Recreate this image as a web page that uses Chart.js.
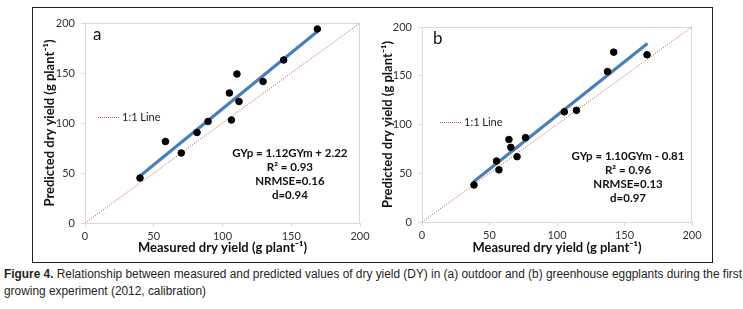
<!DOCTYPE html>
<html>
<head>
<meta charset="utf-8">
<script src="https://cdn.jsdelivr.net/npm/chart.js@4.4.1/dist/chart.umd.min.js"></script>
<style>
  body { margin: 0; background: #fff; width: 743px; height: 309px; position: relative; overflow: hidden; }
  #frame { position: absolute; left: 32px; top: 7px; width: 679px; height: 254px; border: 1px solid #231f20; }
  #chartA { position: absolute; left: 0; top: 0; }
  #chartB { position: absolute; left: 345px; top: 0; }
  #caption { position: absolute; left: 4px; top: 266px; font-family: 'Liberation Sans', sans-serif; font-size: 12.5px; line-height: 17px; color: #231f20; white-space: nowrap; transform-origin: 0 0; }
  #caption span { display: inline-block; }
</style>
</head>
<body>
<div id="frame">
  <canvas id="chartA" width="345" height="254"></canvas>
  <canvas id="chartB" width="333" height="254"></canvas>
</div>
<div id="caption"><span id="capLine"><b>Figure 4.</b> Relationship between measured and predicted values of dry yield (DY) in (a) outdoor and (b) greenhouse eggplants during the first</span><br><span>growing experiment (2012, calibration)</span></div>
<script>
// panel a - outdoor
const measuredA = [40, 58.5, 70, 81.5, 89.5, 105, 106.5, 110.5, 112, 129.5, 144.5, 169];
const predictedA = [45, 81.5, 70, 90.5, 101.5, 130, 103, 149, 121.5, 141.5, 163, 194];
const trendXA = [40, 169];
const trendYA = [47, 191.5];
const statsA = ['GYp = 1.12GYm + 2.22', 'R\u00b2 = 0.93', 'NRMSE=0.16', 'd=0.94'];

// panel b - greenhouse
const measuredB = [38.5, 55.2, 57, 64.4, 65.8, 70.4, 76.7, 105.4, 114.4, 137.4, 142, 166.7];
const predictedB = [38, 62.5, 53.5, 84.6, 76.5, 67, 86.5, 113, 114.5, 154.3, 174.2, 171.5];
const trendXB = [38, 167];
const trendYB = [41, 183];
const statsB = ['GYp = 1.10GYm - 0.81', 'R\u00b2 = 0.96', 'NRMSE=0.13', 'd=0.97'];

const oneToOneX = [0, 200];
const oneToOneY = [0, 200];
const axisTicks = [0, 50, 100, 150, 200];

Chart.defaults.font.family = "'Lato'";
Chart.defaults.color = '#333';

// squeeze the caption to the width of the condensed original
const capLine = document.getElementById('capLine');
document.getElementById('caption').style.transform = 'scaleX(' + (738 / capLine.getBoundingClientRect().width) + ')';

const pairs = (xs, ys) => xs.map((x, i) => ({ x: x, y: ys[i] }));

// plot box, 1:1 legend, stats text and panel letter
const panelPlugin = {
    id: 'panel',
    beforeDatasetsDraw(chart, args, opts) {
        const { ctx, chartArea: a } = chart;
        ctx.save();
        ctx.strokeStyle = '#d9d9d9';
        ctx.lineWidth = 1;
        ctx.strokeRect(Math.round(a.left) + 0.5, Math.round(a.top) + 0.5, Math.round(a.width) - 1, Math.round(a.height));
        ctx.restore();
    },
    afterDraw(chart, args, opts) {
        const { ctx, chartArea: a } = chart;
        ctx.save();
        // letter
        ctx.fillStyle = '#111';
        ctx.font = "17px 'Lato'";
        ctx.textBaseline = 'middle';
        ctx.textAlign = 'left';
        ctx.fillText(opts.letter, a.left + opts.letterX, a.top + opts.letterY);
        // legend
        const ly = Math.round(a.top + opts.legendY) + 0.5;
        ctx.strokeStyle = '#c0504d';
        ctx.lineWidth = 1;
        ctx.setLineDash([1, 1]);
        ctx.beginPath();
        ctx.moveTo(Math.round(a.left + opts.legendX), ly);
        ctx.lineTo(Math.round(a.left + opts.legendX) + 21, ly);
        ctx.stroke();
        ctx.setLineDash([]);
        ctx.font = "11px 'Lato'";
        ctx.fillStyle = '#222';
        ctx.fillText('1:1 Line', a.left + opts.legendX + 24, ly);
        // stats
        ctx.font = "bold 11.5px 'Lato'";
        ctx.textAlign = 'center';
        ctx.fillStyle = '#111';
        const cx = a.left + a.width * opts.statsX;
        opts.stats.forEach((s, i) => ctx.fillText(s, cx, a.top + opts.statsY + i * 14.2));
        ctx.restore();
    }
};

var makeChart = function (id, xs, ys, tx, ty, p) {
    const ctx = document.getElementById(id).getContext('2d');
    return new Chart(ctx, {
        type: 'scatter',
        data: {
            datasets: [{
                data: pairs(xs, ys),
                backgroundColor: '#000',
                borderColor: '#000',
                pointRadius: 3.3,
                showLine: false
            }, {
                data: pairs(tx, ty),
                showLine: true,
                borderColor: '#4a7ebb',
                borderWidth: 3.2,
                pointRadius: 0
            }, {
                data: pairs(oneToOneX, oneToOneY),
                showLine: true,
                borderColor: '#c0504d',
                borderWidth: 1,
                borderDash: [1, 1.5],
                pointRadius: 0
            }]
        },
        plugins: [panelPlugin],
        options: {
            responsive: false,
            animation: false,
            devicePixelRatio: 1,
            layout: { padding: { left: 0, right: p.padRight, top: p.padTop, bottom: 0 } },
            plugins: {
                legend: { display: false },
                tooltip: { enabled: false },
                panel: p
            },
            scales: {
                x: {
                    type: 'linear',
                    min: 0,
                    max: 200,
                    afterBuildTicks: s => { s.ticks = axisTicks.map(v => ({ value: v })); },
                    afterFit: s => { s.height = p.xHeight; },
                    grid: { drawOnChartArea: false, tickLength: 4, color: '#d9d9d9' },
                    border: { color: '#d9d9d9' },
                    ticks: { padding: 3, font: { size: 11 }, color: '#333' },
                    title: {
                        display: true,
                        text: 'Measured dry yield (g plant\u207b\u00b9)',
                        color: '#111',
                        font: { size: 13, weight: 'bold' },
                        padding: { top: 0, bottom: 6 }
                    }
                },
                y: {
                    type: 'linear',
                    min: 0,
                    max: 200,
                    afterBuildTicks: s => { s.ticks = axisTicks.map(v => ({ value: v })); },
                    afterFit: s => { s.width = p.yWidth; },
                    grid: { drawOnChartArea: false, tickLength: 4, color: '#d9d9d9' },
                    border: { color: '#d9d9d9' },
                    ticks: { padding: 6, font: { size: 11 }, color: '#333' },
                    title: {
                        display: true,
                        text: 'Predicted dry yield (g plant\u207b\u00b9)',
                        color: '#111',
                        font: { size: 13, weight: 'bold' },
                        padding: { top: p.yTitlePad, bottom: 0 }
                    }
                }
            }
        }
    });
}

makeChart('chartA', measuredA, predictedA, trendXA, trendYA, {
    letter: 'a', letterX: 8, letterY: 12,
    legendX: 13, legendY: 94,
    stats: statsA, statsX: 0.745, statsY: 130,
    padRight: 18, padTop: 15, xHeight: 39, yWidth: 52, yTitlePad: 9
});
makeChart('chartB', measuredB, predictedB, trendXB, trendYB, {
    letter: 'b', letterX: 11, letterY: 12,
    legendX: 18, legendY: 95,
    stats: statsB, statsX: 0.763, statsY: 129,
    padRight: 19, padTop: 19, xHeight: 40, yWidth: 44, yTitlePad: 2
});
</script>
</body>
</html>
